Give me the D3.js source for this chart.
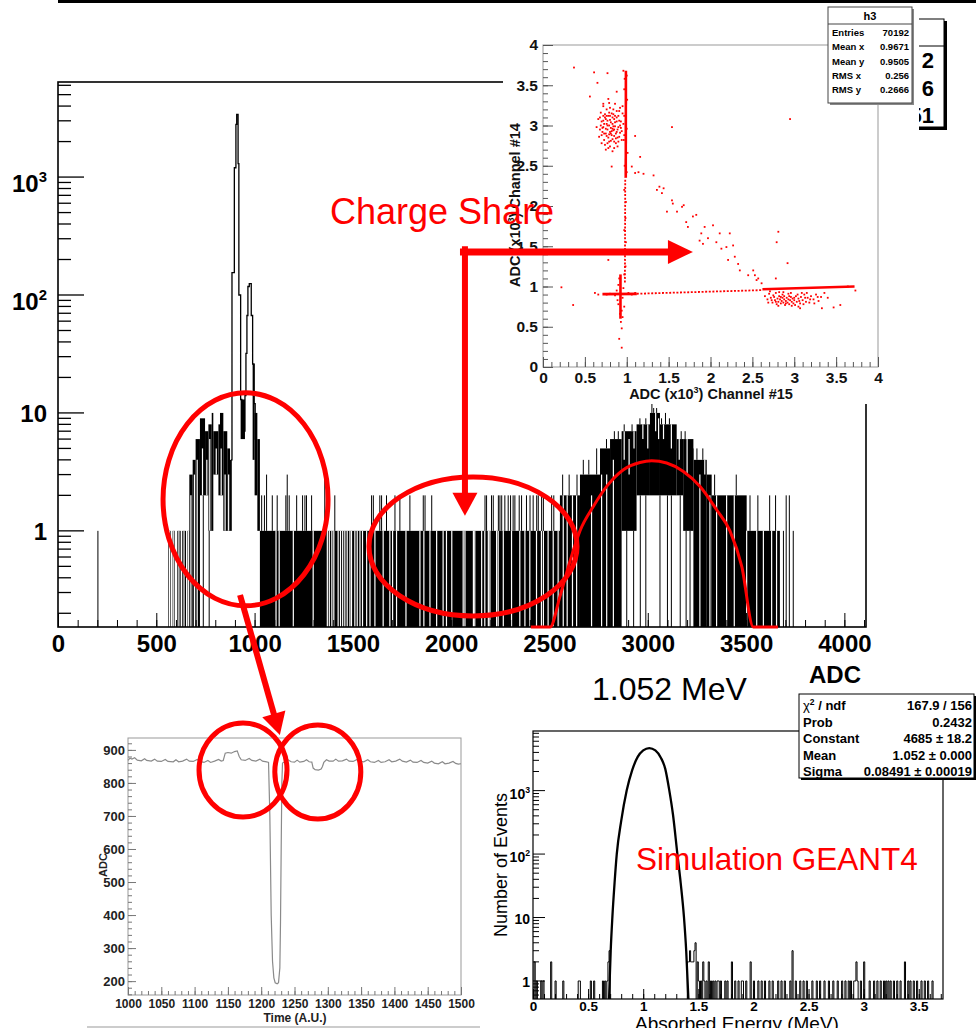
<!DOCTYPE html>
<html lang="en">
<head>
<meta charset="UTF-8" />
<title>ADC spectrum, charge share and GEANT4 simulation</title>
<style>
  body { margin: 0; background: #fff; }
  svg { display: block; }
</style>
</head>
<body>
<svg id="chart" width="976" height="1028"></svg>
<script src="https://d3js.org/d3.v7.min.js"></script>
<script>
// ---------- main ADC spectrum (channel #15), log y ----------
const adcTickLabels = [0, 500, 1000, 1500, 2000, 2500, 3000, 3500, 4000];
const countLabels = [
  { v: 1000, t: "10", e: "3" }, { v: 100, t: "10", e: "2" },
  { v: 10, t: "10", e: "" }, { v: 1, t: "1", e: "" }
];
// [adcFrom, adcTo, lowestCount, highestCount] : regions where the step line is so dense it prints black
const adcBlocks = [
  [561, 573, 0, 1], [583, 595, 0, 1], [607, 624, 0, 1], [632, 651, 0, 1], [658, 668, 0, 1],
  [668, 685, 0, 3], [685, 700, 0, 4], [700, 722, 0, 6],
  [722, 748, 2, 9], [748, 765, 2, 7], [765, 782, 1, 8], [782, 790, 1, 10], [790, 816, 3, 7],
  [816, 824, 2, 8], [824, 841, 2, 10], [841, 861, 1, 7], [861, 875, 1, 5], [875, 884, 1, 4],
  [929, 951, 6, 13],
  [990, 1000, 4, 26], [1000, 1014, 2, 10], [1014, 1027, 1, 6],
  [1027, 2553, 0, 1],
  [2553, 2655, 0, 2], [2655, 2757, 0, 3], [2757, 2808, 0, 5], [2808, 2867, 0, 6],
  [2867, 2943, 1, 7], [2943, 3011, 2, 8], [3011, 3062, 2, 10], [3062, 3147, 2, 8],
  [3147, 3180, 2, 6], [3180, 3232, 1, 6], [3232, 3300, 0, 4], [3300, 3325, 0, 3],
  [3325, 3503, 0, 2], [3503, 3672, 0, 1]
];
// empty bins cutting through the black regions [adc, from, to]
const adcGaps = [
  [567,0,1],[589,0,1],[615,0,1],[641,0,1],[663,0,1],
  [676,0,2],[694,0,3],[708,0,4],[735,2,5],[757,2,4],[772,1,6],[805,3,5],[830,2,5],[850,1,3],[868,1,3],
  [1109,0,1],[1125,0,1],[1197,0,1],[1298,0,1],[1370,0,1],[1380,0,1],[1393,0,1],[1403,0,1],[1425,0,1],
  [1437,0,1],[1448,0,1],[1459,0,1],[1471,0,1],[1485,0,1],[1493,0,1],[1510,0,1],[1522,0,1],[1536,0,1],
  [1549,0,1],[1570,0,1],[1587,0,1],[1612,0,1],[1654,0,1],[1688,0,1],[1702,0,1],[1722,0,1],[1770,0,1],
  [1841,0,1],[1861,0,1],[1892,0,1],[1926,0,1],[1959,0,1],[1976,0,1],[2003,0,1],[2061,0,1],[2070,0,1],
  [2113,0,1],[2120,0,1],[2155,0,1],[2171,0,1],[2189,0,1],[2197,0,1],[2231,0,1],[2239,0,1],[2265,0,1],
  [2307,0,1],[2349,0,1],[2375,0,1],[2400,0,1],[2434,0,1],[2459,0,1],[2469,0,1],[2493,0,1],[2519,0,1],
  [2544,0,1],[2570,0,2],[2590,0,2],[2617,0,2],[2638,0,2],[2714,0,2],[2765,0,3],[2791,0,3],[2825,0,4],
  [2880,4,7],[2905,3,6],[2930,5,7],[2975,6,8],[3000,5,8],[3040,7,10],[3055,6,9],[3080,6,8],[3120,5,8],
  [3160,4,6],[3200,3,6],[3265,0,3],[3290,3,4],[3316,0,2],[3350,0,2],[3401,0,2],[3440,0,2],[3503,0,1],
  [3554,0,1],[3588,0,1],[3630,0,1],[3655,0,1]
];
// single bins standing out [adc, from, to]
const adcSpikes = [
  [203,0,1],[739,0,2],[769,0,1],
  [1036,1,2],[1050,1,2],[1061,1,3],[1090,1,2],[1115,1,2],[1159,1,2],[1166,1,3],[1176,1,2],[1214,1,2],
  [1244,1,2],[1256,1,2],[1264,1,2],[1290,1,2],[1357,1,3],[1408,1,2],[1595,1,2],[1604,1,2],[1637,1,2],
  [1646,1,2],[1671,1,2],[1714,1,2],[1739,1,2],[1790,1,2],[1858,1,2],[1867,1,2],[1901,1,2],[2172,1,2],
  [2180,1,2],[2205,1,2],[2214,1,2],[2240,1,2],[2248,1,2],[2257,1,2],[2273,1,2],[2290,1,2],[2302,1,2],
  [2315,1,2],[2324,1,2],[2346,1,2],[2358,1,2],[2383,1,2],[2401,1,2],[2417,1,2],[2435,1,2],[2443,1,2],
  [2460,1,2],[2469,1,2],[2511,1,2],[2522,1,2],
  [2567,2,3],[2600,2,3],[2640,2,3],[2672,3,4],[2700,3,4],[2740,3,5],[2790,5,6],[2830,6,7],[2850,6,7],
  [2880,7,8],[2920,7,8],[2960,8,9],[2990,8,9],[3021,10,12],[3030,10,11],[3045,10,11],[3070,8,9],
  [3090,8,10],[3110,8,9],[3170,6,7],[3190,6,7],[3230,4,5],[3250,4,5],[3280,4,5],
  [3340,2,3],[3450,2,3],[3520,1,2],[3560,1,2],[3620,1,2],[3650,1,2],[3690,0,1],[3704,0,2],[3720,0,2],[3740,0,1],
  [2893,0,1],[2928,0,1],[2962,0,2],[2990,0,2],[3062,0,2],[3100,0,2],[3120,0,2],[3165,0,2],[3195,0,1],[3215,0,1]
];
// the two narrow peaks, drawn as an outline [bin edge, count]
const adcPeak = [[880,4],[885,155],[897,1200],[905,2800],[909,3400],[916,1300],[920,100],[929,13],
  [935,8],[941,12],[946,7],[951,14],[956,32],[961,67],[966,118],[973,125],[983,67],[990,26],[997,12],
  [1003,6],[1008,6]];
// red fit over the 3000 ADC bump [adc, value]
const adcFit = [[2405,0.1],[2503,0.15],[2553,0.277],[2604,0.55],[2655,1.0],[2723,1.61],[2791,2.38],
  [2876,3.3],[2960,3.8],[3020,3.93],[3096,3.76],[3181,3.19],[3266,2.38],[3350,1.51],[3418,1.0],
  [3478,0.5],[3537,0.15],[3662,0.1]];
const mainStatValues = ["2", "6", "51"];

// ---------- 2D scatter: channel #15 vs channel #14 (x10^3) ----------
const scatTickLabels = [0, 0.5, 1, 1.5, 2, 2.5, 3, 3.5, 4];
const h3Stats = [["Entries", "70192"], ["Mean x", "0.9671"], ["Mean y", "0.9505"], ["RMS x", "0.256"], ["RMS y", "0.2666"]];
const denseBands = [[0.988, 2.35, 0.99, 3.68], [0.925, 0.60, 0.925, 1.15], [0.71, 0.905, 1.12, 0.908], [2.62, 0.965, 3.72, 1.0]];
const dottedBands = [[0.978, 1.05, 0.982, 2.35], [1.12, 0.91, 2.62, 0.955]];
const blobTopLeft = [[0.70,3.05],[0.72,2.98],[0.74,3.10],[0.75,2.90],[0.76,3.02],[0.77,2.95],[0.78,3.12],
  [0.78,2.85],[0.79,3.00],[0.80,2.92],[0.80,3.07],[0.81,2.97],[0.82,2.88],[0.82,3.15],[0.83,3.02],[0.84,2.94],
  [0.85,3.08],[0.85,2.80],[0.86,2.99],[0.87,2.90],[0.88,3.05],[0.89,2.95],[0.90,3.12],[0.91,2.86],[0.92,3.00],
  [0.73,2.82],[0.71,2.92],[0.69,3.00],[0.68,2.95],[0.74,2.76],[0.77,2.78],[0.80,2.74],[0.76,3.20],[0.80,3.22],
  [0.84,3.20],[0.88,3.18],[0.93,3.05],[0.94,2.93],[0.72,3.12],[0.83,2.83],[0.79,2.89],[0.75,2.96],[0.86,3.12],
  [0.81,3.04],[0.77,3.06],[0.84,2.99],[0.73,3.02],[0.89,2.85],[0.91,3.18],[0.87,2.78],[0.70,2.88],[0.95,3.15],
  [0.78,2.72],[0.83,3.10],[0.76,2.87],[0.90,2.98],[0.82,2.93],[0.86,3.04],[0.74,3.14],[0.88,2.92],[0.79,3.16],
  [0.85,2.87],[0.71,2.97],[0.92,2.91],[0.81,2.81],
  [0.66,3.08],[0.67,2.86],[0.69,3.16],[0.70,2.78],[0.72,3.24],[0.75,2.70],[0.79,3.28],[0.83,2.68],[0.86,3.27],
  [0.89,2.74],[0.92,3.22],[0.94,2.82],[0.96,3.02],[0.97,2.88],[0.64,2.98],[0.73,2.90],[0.77,3.00],[0.81,2.90],
  [0.85,2.95],[0.88,3.10],[0.91,3.06],[0.76,3.12],[0.84,3.14],[0.79,2.80],[0.87,2.84],[0.72,3.06],[0.93,2.97],
  [0.80,3.12],[0.83,2.96],[0.75,3.08],[0.68,3.10],[0.90,2.80],[0.95,3.24],[0.78,3.33],[0.85,2.72]];
const blobBottomRight = [[2.65,0.88],[2.68,0.84],[2.70,0.91],[2.72,0.86],[2.74,0.80],[2.75,0.89],[2.77,0.83],
  [2.78,0.92],[2.79,0.78],[2.80,0.85],[2.81,0.81],[2.82,0.88],[2.83,0.84],[2.84,0.79],[2.85,0.82],[2.86,0.86],
  [2.87,0.80],[2.88,0.84],[2.89,0.77],[2.90,0.82],[2.91,0.86],[2.92,0.80],[2.93,0.84],[2.94,0.78],[2.95,0.83],
  [2.96,0.87],[2.97,0.81],[2.98,0.85],[2.99,0.79],[3.00,0.83],[3.02,0.88],[3.03,0.81],[3.05,0.85],[3.07,0.79],
  [3.08,0.87],[3.10,0.83],[3.12,0.90],[3.14,0.81],[3.16,0.86],[3.18,0.80],[3.20,0.88],[3.23,0.84],[3.26,0.90],
  [3.29,0.82],[3.32,0.87],[2.86,0.90],[2.93,0.91],[2.76,0.87],[3.01,0.77],[2.88,0.88],[3.04,0.90],[2.82,0.93],
  [3.15,0.92],[2.71,0.94],[3.36,0.92],[3.40,0.86],
  [2.73,0.83],[2.81,0.76],[2.84,0.87],[2.90,0.79],[2.94,0.88],[2.97,0.76],[3.00,0.86],[3.06,0.82],[3.11,0.78],
  [3.13,0.86],[3.19,0.84],[3.24,0.79],[3.28,0.87],[2.69,0.80],[2.87,0.93],[2.96,0.92],[3.09,0.92],[2.78,0.81]];
const diagonalDots = [[1.06,2.49],[1.10,2.41],[1.14,2.42],[1.20,2.40],[1.32,2.38],[1.36,2.20],[1.39,2.24],
  [1.42,2.16],[1.44,2.22],[1.48,1.93],[1.54,2.07],[1.55,2.03],[1.60,1.93],[1.66,1.99],[1.68,2.01],[1.71,1.80],
  [1.73,1.74],[1.79,1.87],[1.83,1.89],[1.87,1.57],[1.89,1.66],[1.91,1.53],[1.93,1.74],[1.97,1.60],[2.03,1.76],
  [2.07,1.55],[2.11,1.66],[2.13,1.47],[2.19,1.49],[2.21,1.33],[2.23,1.66],[2.27,1.51],[2.29,1.37],[2.33,1.28],
  [2.35,1.20],[2.45,1.14],[2.51,1.20],[2.53,1.14],[2.55,1.08],[2.57,1.10],[2.61,1.04]];
const strayDots = [[0.37,3.72],[0.61,3.66],[0.77,3.65],[0.96,3.68],[0.56,3.36],[0.65,3.53],[0.88,3.42],
  [0.72,3.27],[1.54,2.98],[2.95,3.08],[2.81,1.68],[2.79,1.55],[2.92,1.29],[2.78,1.10],[0.22,0.99],[0.36,0.77],
  [0.91,0.35],[0.94,0.24],[0.78,1.33],[0.82,2.49],[1.10,2.87],[1.16,2.61],[3.73,0.95],[3.47,0.74],[3.55,0.77],
  [3.33,0.73],[3.07,0.73],[3.05,0.75],[3.64,1.0],[0.62,0.92],[0.66,0.90]];
const bandDots = [[0.975,3.58],[1.0,3.62],[0.97,3.45],[1.005,3.32],[0.97,3.12],[1.0,2.96],[0.965,2.82],
  [1.01,2.66],[0.975,2.5],[1.0,2.42],[0.97,2.2],[0.99,2.05],[0.985,1.85],[0.97,1.7],[0.99,1.55],[0.975,1.4],
  [0.985,1.25],[0.97,1.15],[0.90,0.78],[0.94,0.70],[0.92,0.66],[0.95,0.86],[0.88,0.95],[0.96,0.98],[0.91,1.10],
  [0.86,0.89],[1.02,0.92],[1.06,0.90],[0.80,0.91],[0.95,0.62],[0.90,1.02],[0.97,0.75],[0.89,0.83],[0.93,0.56],
  [0.94,0.48],[0.76,0.90],[1.10,0.92]];

// ---------- waveform, ADC vs time ----------
const waveTimeLabels = [1000,1050,1100,1150,1200,1250,1300,1350,1400,1450,1500];
const waveAdcLabels = [200,300,400,500,600,700,800,900];
const waveform = [[1000,868],[1003,875],[1006,872],[1010,876],[1014,869],[1020,867],[1025,873],[1028,868],
  [1035,866],[1040,872],[1044,866],[1050,865],[1056,871],[1060,865],[1068,864],[1072,870],[1076,864],[1082,866],
  [1088,872],[1092,866],[1098,865],[1104,871],[1108,865],[1114,862],[1120,868],[1124,862],[1130,866],[1136,871],
  [1140,866],[1143,868],[1146,890],[1150,892],[1155,890],[1160,895],[1164,897],[1167,880],[1170,870],[1176,868],
  [1182,874],[1186,868],[1192,866],[1198,872],[1202,866],[1208,864],[1211,862],[1213,700],[1215,400],[1217,260],
  [1219,210],[1221,195],[1224,192],[1226,195],[1228,240],[1229,380],[1230,600],[1231,800],[1232,860],[1236,865],
  [1240,870],[1245,864],[1250,863],[1254,869],[1258,863],[1264,865],[1268,870],[1272,864],[1276,863],[1278,845],
  [1281,840],[1286,839],[1290,842],[1292,850],[1294,862],[1298,870],[1302,866],[1308,866],[1312,872],[1316,866],
  [1322,867],[1328,872],[1332,866],[1338,865],[1344,871],[1348,865],[1354,864],[1360,870],[1364,864],[1370,862],
  [1376,868],[1380,862],[1386,864],[1392,870],[1396,864],[1402,866],[1408,872],[1412,866],[1418,863],[1424,869],
  [1428,863],[1434,862],[1440,868],[1444,862],[1450,860],[1456,866],[1460,860],[1466,858],[1472,864],[1476,858],
  [1482,860],[1488,865],[1492,859],[1496,857],[1500,858]];

// ---------- GEANT4 simulation, absorbed energy ----------
const energyLabels = [0, 0.5, 1, 1.5, 2, 2.5, 3, 3.5];
const eventLabels = [{ v: 1000, t: "10", e: "3" }, { v: 100, t: "10", e: "2" }, { v: 10, t: "10", e: "" }, { v: 1, t: "1", e: "" }];
const simBinWidth = 0.01;
const simBins = [[0.01,2],[0.03,1],[0.07,1],[0.09,1],[0.16,2],[0.20,1],[0.27,1],[0.41,1],[0.42,1],[0.52,1],
  [0.55,1],[0.63,1],[0.65,1],[0.67,1],[0.68,2],[0.69,3],
  [1.40,2],[1.41,2],[1.42,3],[1.43,2],[1.44,2],[1.45,2],[1.46,3],[1.47,4],[1.49,2],[1.50,1],[1.52,1],[1.54,2],
  [1.55,1],[1.57,1],[1.59,2],[1.61,1],[1.63,1],[1.65,1],[1.67,1],[1.68,1],[1.70,1],[1.74,1],[1.76,1],[1.80,2],
  [1.83,1],[1.86,1],[1.89,1],[1.90,1],[1.93,1],[1.97,2],[2.00,1],[2.04,1],[2.07,1],[2.10,1],[2.14,1],[2.17,1],
  [2.22,1],[2.25,1],[2.28,1],[2.33,1],[2.35,3],[2.38,1],[2.42,1],[2.45,1],[2.48,1],[2.53,1],[2.57,1],[2.60,1],
  [2.64,1],[2.68,1],[2.72,1],[2.76,1],[2.80,1],[2.83,1],[2.86,1],[2.88,1],[2.91,1],[2.92,1],[2.93,2],[2.94,1],
  [2.97,1],[3.00,2],[3.05,1],[3.09,1],[3.12,1],[3.15,1],[3.18,1],[3.20,1],[3.22,1],[3.24,1],[3.27,1],[3.30,1],
  [3.33,1],[3.37,2],[3.40,1],[3.42,1],[3.45,1],[3.48,1],[3.52,1],[3.55,1],[3.58,1],[3.62,1]];
const simFitCurve = [[0.69,0.52],[0.705,3],[0.72,10],[0.74,35],[0.76,100],[0.80,330],[0.85,1000],[0.90,2100],
  [0.95,3400],[1.00,4300],[1.055,4685],[1.11,4300],[1.16,3300],[1.20,2200],[1.237,1000],[1.27,420],[1.31,100],
  [1.34,35],[1.37,10],[1.39,3],[1.41,0.52]];
const fitStats = [["2", "167.9 / 156"], ["Prob", "0.2432"], ["Constant", "4685 \u00b1 18.2"], ["Mean", "1.052 \u00b1 0.000"], ["Sigma", "0.08491 \u00b1 0.00019"]];

const FONT = '"Liberation Sans", Arial, Helvetica, sans-serif';
const RED = "#ff0000";
const svg = d3.select("#chart").attr("font-family", FONT);
const intFmt = d3.format("d");

function logTicks(scale) {
  const [lo, hi] = scale.domain();
  const out = [];
  for (let e = Math.floor(Math.log10(lo)); e <= Math.ceil(Math.log10(hi)); e++)
    for (let m = 1; m <= 9; m++) {
      const v = m * Math.pow(10, e);
      if (v >= lo && v <= hi) out.push({ v, major: m === 1 });
    }
  return out;
}
function styleAxis(g, size, color, weight) {
  g.attr("font-family", FONT).attr("font-size", size).attr("font-weight", weight || "bold").attr("color", color);
  g.select(".domain").remove();
}
function richText(g, x, y, base, sup, tail, size) {
  const t = g.append("text").attr("x", x).attr("y", y).attr("font-size", size);
  t.append("tspan").text(base);
  if (sup) {
    t.append("tspan").attr("dy", -0.42 * size).attr("font-size", size * 0.62).text(sup);
    if (tail) t.append("tspan").attr("dy", 0.42 * size).text(tail);
  }
  return t;
}
function arrow(g, x1, y1, x2, y2, w, headLen, headW) {
  const a = Math.atan2(y2 - y1, x2 - x1), c = Math.cos(a), s = Math.sin(a);
  const bx = x2 - headLen * c, by = y2 - headLen * s;
  g.append("line").attr("x1", x1).attr("y1", y1).attr("x2", bx + c).attr("y2", by + s)
    .attr("stroke", RED).attr("stroke-width", w);
  g.append("path").attr("fill", RED)
    .attr("d", `M${x2},${y2}L${bx - s * headW / 2},${by + c * headW / 2}L${bx + s * headW / 2},${by - c * headW / 2}Z`);
}

// ================= main spectrum =================
const mX = d3.scaleLinear().domain([0, 4110]).range([58, 866]);
const mY = d3.scaleLog().domain([0.153, 6400]).range([627, 82]);
const my = v => v <= 0 ? 627 : Math.max(82, Math.min(627, mY(v)));
const main = svg.append("g");

main.selectAll(".blk").data(adcBlocks).join("rect")
  .attr("x", d => mX(d[0])).attr("width", d => mX(d[1]) - mX(d[0]))
  .attr("y", d => my(d[3])).attr("height", d => my(d[2]) - my(d[3])).attr("fill", "#000");
main.selectAll(".gap").data(adcGaps).join("line")
  .attr("x1", d => mX(d[0])).attr("x2", d => mX(d[0]))
  .attr("y1", d => my(d[1])).attr("y2", d => my(d[2])).attr("stroke", "#fff").attr("stroke-width", 1.2);
main.selectAll(".spk").data(adcSpikes).join("line")
  .attr("x1", d => mX(d[0])).attr("x2", d => mX(d[0]))
  .attr("y1", d => my(d[1])).attr("y2", d => my(d[2])).attr("stroke", "#000").attr("stroke-width", 1);
main.append("path").datum(adcPeak)
  .attr("d", d3.line().x(d => mX(d[0])).y(d => my(d[1])).curve(d3.curveStepAfter))
  .attr("fill", "none").attr("stroke", "#000").attr("stroke-width", 1.3);

main.append("rect").attr("x", 58).attr("y", 82).attr("width", 808).attr("height", 545)
  .attr("fill", "none").attr("stroke", "#000").attr("stroke-width", 1.6);

main.append("g").attr("transform", "translate(0,627)")
  .call(d3.axisBottom(mX).tickValues(d3.range(0, 4101, 100)).tickSizeInner(-7).tickSizeOuter(0).tickFormat(() => ""))
  .call(g => styleAxis(g, 24, "#000"));
main.append("g").attr("transform", "translate(0,627)")
  .call(d3.axisBottom(mX).tickValues(adcTickLabels).tickSizeInner(-14).tickSizeOuter(0).tickPadding(8).tickFormat(intFmt))
  .call(g => styleAxis(g, 24, "#000"));
main.selectAll(".ytk").data(logTicks(mY)).join("line")
  .attr("x1", 58).attr("x2", d => 58 + (d.major ? 26 : 13))
  .attr("y1", d => mY(d.v)).attr("y2", d => mY(d.v)).attr("stroke", "#000").attr("stroke-width", 1.3);
countLabels.forEach(d => {
  richText(main, 47, mY(d.v) + (d.e ? 15 : 9), d.t, d.e, "", 24)
    .attr("text-anchor", "end").attr("font-weight", "bold");
});
main.append("text").attr("x", 861).attr("y", 683).attr("text-anchor", "end")
  .attr("font-size", 24).attr("font-weight", "bold").text("ADC");

// stat box of the main spectrum (only its right end shows past the scatter pad)
svg.append("clipPath").attr("id", "mstatClip")
  .append("rect").attr("x", 919).attr("y", 0).attr("width", 57).attr("height", 140);
const mstat = svg.append("g").attr("clip-path", "url(#mstatClip)");
mstat.append("rect").attr("x", 780).attr("y", 21).attr("width", 167).attr("height", 109).attr("fill", "#000");
mstat.append("rect").attr("x", 778).attr("y", 19).attr("width", 166).attr("height", 108)
  .attr("fill", "#fff").attr("stroke", "#000").attr("stroke-width", 1);
mstat.append("line").attr("x1", 778).attr("x2", 944).attr("y1", 46).attr("y2", 46).attr("stroke", "#000");
mainStatValues.forEach((v, i) => {
  mstat.append("text").attr("x", 934).attr("y", 68 + i * 27.5).attr("text-anchor", "end")
    .attr("font-size", 22).attr("font-weight", "bold").text(v);
});
svg.append("line").attr("x1", 912).attr("x2", 919).attr("y1", 19.5).attr("y2", 19.5).attr("stroke", "#000");

// red fit curve
main.append("path").datum(adcFit)
  .attr("d", d3.line().x(d => mX(d[0])).y(d => my(d[1])).curve(d3.curveMonotoneX))
  .attr("fill", "none").attr("stroke", RED).attr("stroke-width", 3);

// ================= scatter pad =================
svg.append("rect").attr("x", 503).attr("y", 4).attr("width", 416).attr("height", 400).attr("fill", "#fff");
const cX = d3.scaleLinear().domain([0, 4]).range([543, 878]);
const cY = d3.scaleLinear().domain([0, 4]).range([367, 45]);
const scat = svg.append("g");
scat.append("rect").attr("x", 543).attr("y", 45).attr("width", 335).attr("height", 322)
  .attr("fill", "none").attr("stroke", "#999").attr("stroke-width", 1);
scat.append("g").attr("transform", "translate(0,367)")
  .call(d3.axisBottom(cX).tickValues(d3.range(0, 4.01, 0.1)).tickSizeInner(-5).tickSizeOuter(0).tickFormat(() => ""))
  .call(g => styleAxis(g, 15, "#555"));
scat.append("g").attr("transform", "translate(0,367)")
  .call(d3.axisBottom(cX).tickValues(scatTickLabels).tickSizeInner(-10).tickSizeOuter(0).tickPadding(5).tickFormat(d3.format("")))
  .call(g => styleAxis(g, 15.5, "#555")).call(g => g.selectAll("text").attr("fill", "#111"));
scat.append("g").attr("transform", "translate(543,0)")
  .call(d3.axisLeft(cY).tickValues(d3.range(0, 4.01, 0.1)).tickSizeInner(-5).tickSizeOuter(0).tickFormat(() => ""))
  .call(g => styleAxis(g, 15, "#555"));
scat.append("g").attr("transform", "translate(543,0)")
  .call(d3.axisLeft(cY).tickValues(scatTickLabels).tickSizeInner(-10).tickSizeOuter(0).tickPadding(5).tickFormat(d3.format("")))
  .call(g => styleAxis(g, 15.5, "#555")).call(g => g.selectAll("text").attr("fill", "#111"));
richText(scat, 711, 399, "ADC (x10", "3", ") Channel #15", 14.5).attr("text-anchor", "middle").attr("font-weight", "bold").attr("fill", "#111");
richText(scat, 0, 0, "ADC (x10", "3", ") Channel #14", 14.5).attr("text-anchor", "middle").attr("font-weight", "bold")
  .attr("fill", "#111").attr("transform", "translate(520,205) rotate(-90)");

scat.selectAll(".band").data(denseBands).join("line")
  .attr("x1", d => cX(d[0])).attr("y1", d => cY(d[1])).attr("x2", d => cX(d[2])).attr("y2", d => cY(d[3]))
  .attr("stroke", RED).attr("stroke-width", 2.6);
scat.selectAll(".dband").data(dottedBands).join("line")
  .attr("x1", d => cX(d[0])).attr("y1", d => cY(d[1])).attr("x2", d => cX(d[2])).attr("y2", d => cY(d[3]))
  .attr("stroke", RED).attr("stroke-width", 1.8).attr("stroke-dasharray", "2 1.6");
const allDots = [].concat(blobTopLeft, blobBottomRight, diagonalDots, strayDots, bandDots);
scat.selectAll(".dot").data(allDots).join("rect")
  .attr("x", d => cX(d[0]) - 0.9).attr("y", d => cY(d[1]) - 0.9)
  .attr("width", 1.8).attr("height", 1.8).attr("fill", RED);

// h3 stat box
const h3 = svg.append("g");
h3.append("rect").attr("x", 830).attr("y", 9).attr("width", 84).attr("height", 96).attr("fill", "#888");
h3.append("rect").attr("x", 828).attr("y", 7).attr("width", 84).attr("height", 96)
  .attr("fill", "#fff").attr("stroke", "#444").attr("stroke-width", 1);
h3.append("line").attr("x1", 828).attr("x2", 912).attr("y1", 24).attr("y2", 24).attr("stroke", "#444");
h3.append("text").attr("x", 870).attr("y", 20).attr("text-anchor", "middle")
  .attr("font-size", 11).attr("font-weight", "bold").text("h3");
h3Stats.forEach((r, i) => {
  const y = 36 + i * 14.3;
  h3.append("text").attr("x", 832).attr("y", y).attr("font-size", 9.5).attr("font-weight", "bold").text(r[0]);
  h3.append("text").attr("x", 909).attr("y", y).attr("text-anchor", "end").attr("font-size", 9.5).attr("font-weight", "bold").text(r[1]);
});

// top rule
svg.append("rect").attr("x", 58).attr("y", 0).attr("width", 918).attr("height", 3).attr("fill", "#000");

// ================= waveform =================
const wX = d3.scaleLinear().domain([1000, 1500]).range([128, 461]);
const wY = d3.scaleLinear().domain([158, 936]).range([995, 738]);
const wave = svg.append("g");
wave.append("rect").attr("x", 128).attr("y", 738).attr("width", 333).attr("height", 257)
  .attr("fill", "none").attr("stroke", "#999");
wave.append("g").attr("transform", "translate(0,995)")
  .call(d3.axisBottom(wX).tickValues(d3.range(1000, 1501, 10)).tickSizeInner(-4).tickSizeOuter(0).tickFormat(() => ""))
  .call(g => styleAxis(g, 12, "#777"));
wave.append("g").attr("transform", "translate(0,995)")
  .call(d3.axisBottom(wX).tickValues(waveTimeLabels).tickSizeInner(-8).tickSizeOuter(0).tickPadding(4).tickFormat(intFmt))
  .call(g => styleAxis(g, 12, "#777")).call(g => g.selectAll("text").attr("fill", "#222"));
wave.append("g").attr("transform", "translate(128,0)")
  .call(d3.axisLeft(wY).tickValues(d3.range(160, 936, 20)).tickSizeInner(-4).tickSizeOuter(0).tickFormat(() => ""))
  .call(g => styleAxis(g, 13, "#777"));
wave.append("g").attr("transform", "translate(128,0)")
  .call(d3.axisLeft(wY).tickValues(waveAdcLabels).tickSizeInner(-8).tickSizeOuter(0).tickPadding(3).tickFormat(intFmt))
  .call(g => styleAxis(g, 13, "#777")).call(g => g.selectAll("text").attr("fill", "#222"));
wave.append("text").attr("x", 295).attr("y", 1022).attr("text-anchor", "middle")
  .attr("font-size", 12).attr("font-weight", "bold").attr("fill", "#222").text("Time (A.U.)");
wave.append("text").attr("transform", "translate(107,865) rotate(-90)").attr("text-anchor", "middle")
  .attr("font-size", 11).attr("font-weight", "bold").attr("fill", "#222").text("ADC");
wave.append("path").datum(waveform)
  .attr("d", d3.line().x(d => wX(d[0])).y(d => wY(d[1])))
  .attr("fill", "none").attr("stroke", "#8a8a8a").attr("stroke-width", 1.2);
svg.append("line").attr("x1", 87).attr("x2", 480).attr("y1", 1027).attr("y2", 1027)
  .attr("stroke", "#ccc").attr("stroke-width", 2);

// ================= simulation =================
const sX = d3.scaleLinear().domain([0, 3.72]).range([533, 943]);
const sY = d3.scaleLog().domain([0.52, 8700]).range([999, 731]);
const sy = v => v <= 0 ? 999 : Math.max(731, Math.min(999, sY(v)));
const sim = svg.append("g");
sim.append("rect").attr("x", 533).attr("y", 731).attr("width", 410).attr("height", 268)
  .attr("fill", "none").attr("stroke", "#000").attr("stroke-width", 1.2);
const bins = simBins.slice().sort((a, b) => a[0] - b[0]);
const hp = d3.path();
bins.forEach((b, i) => {
  const x0 = sX(b[0]), x1 = sX(b[0] + simBinWidth);
  const prevAdj = i > 0 && Math.abs(bins[i - 1][0] + simBinWidth - b[0]) < 1e-6;
  const nextAdj = i < bins.length - 1 && Math.abs(b[0] + simBinWidth - bins[i + 1][0]) < 1e-6;
  if (!prevAdj) hp.moveTo(x0, 999);
  hp.lineTo(x0, sy(b[1]));
  hp.lineTo(x1, sy(b[1]));
  if (!nextAdj) hp.lineTo(x1, 999);
});
sim.append("path").attr("d", hp.toString()).attr("fill", "none").attr("stroke", "#000").attr("stroke-width", 1);
sim.append("path").datum(simFitCurve)
  .attr("d", d3.line().x(d => sX(d[0])).y(d => sy(d[1])).curve(d3.curveMonotoneX))
  .attr("fill", "none").attr("stroke", "#000").attr("stroke-width", 2.3);
sim.append("g").attr("transform", "translate(0,999)")
  .call(d3.axisBottom(sX).tickValues(d3.range(0, 3.71, 0.1)).tickSizeInner(-5).tickSizeOuter(0).tickFormat(() => ""))
  .call(g => styleAxis(g, 13.5, "#000"));
sim.append("g").attr("transform", "translate(0,999)")
  .call(d3.axisBottom(sX).tickValues(energyLabels).tickSizeInner(-10).tickSizeOuter(0).tickPadding(2).tickFormat(d3.format("")))
  .call(g => styleAxis(g, 13.5, "#000"));
sim.selectAll(".sytk").data(logTicks(sY)).join("line")
  .attr("x1", 533).attr("x2", d => 533 + (d.major ? 12 : 6))
  .attr("y1", d => sY(d.v)).attr("y2", d => sY(d.v)).attr("stroke", "#000").attr("stroke-width", 1);
eventLabels.forEach(d => {
  richText(sim, 530, sY(d.v) + (d.e ? 8 : 6), d.t, d.e, "", 14).attr("text-anchor", "end").attr("font-weight", "bold");
});
sim.append("text").attr("x", 737).attr("y", 1030).attr("text-anchor", "middle").attr("font-size", 19)
  .text("Absorbed Energy (MeV)");
sim.append("text").attr("transform", "translate(507,865) rotate(-90)").attr("text-anchor", "middle")
  .attr("font-size", 18).text("Number of Events");
sim.append("text").attr("x", 636).attr("y", 870).attr("font-size", 31.5).attr("fill", RED).text("Simulation GEANT4");

// fit stat box
const fb = svg.append("g");
fb.append("rect").attr("x", 801).attr("y", 696).attr("width", 175).attr("height", 84).attr("fill", "#000");
fb.append("rect").attr("x", 799).attr("y", 694).attr("width", 175).attr("height", 84)
  .attr("fill", "#fff").attr("stroke", "#000").attr("stroke-width", 1);
fitStats.forEach((r, i) => {
  const y = 710 + i * 16.5;
  const lab = fb.append("text").attr("x", 803).attr("y", y).attr("font-size", 13).attr("font-weight", "bold");
  if (i === 0) {
    lab.append("tspan").attr("font-weight", "normal").text("\u03c7");
    lab.append("tspan").attr("dy", -5).attr("font-size", 8.5).text(r[0]);
    lab.append("tspan").attr("dy", 5).text(" / ndf");
  } else lab.text(r[0]);
  fb.append("text").attr("x", 972).attr("y", y).attr("text-anchor", "end").attr("font-size", 13)
    .attr("font-weight", "bold").text(r[1]);
});
svg.append("text").attr("x", 592).attr("y", 700).attr("font-size", 32).text("1.052 MeV");

// ================= red annotations =================
const notes = svg.append("g");
notes.append("ellipse").attr("cx", mX(954)).attr("cy", my(1.85)).attr("rx", 82.5).attr("ry", 106.5)
  .attr("fill", "none").attr("stroke", RED).attr("stroke-width", 5);
notes.append("ellipse").attr("cx", mX(2111)).attr("cy", my(0.738)).attr("rx", 104).attr("ry", 69.5)
  .attr("fill", "none").attr("stroke", RED).attr("stroke-width", 5);
arrow(notes, mX(2070), my(244) - 3, mX(2070), my(1.34), 6, 23, 25);
arrow(notes, mX(2060) - 3, cY(1.43), cX(1.79), cY(1.43), 7, 25, 24);
arrow(notes, mX(926), my(0.286), wX(1228), wY(945), 6, 22, 24);
notes.append("text").attr("x", 330).attr("y", 224).attr("font-size", 36).attr("fill", RED).text("Charge Share");
notes.append("ellipse").attr("cx", wX(1172.7)).attr("cy", wY(839)).attr("rx", 44).attr("ry", 47)
  .attr("fill", "none").attr("stroke", RED).attr("stroke-width", 5);
notes.append("ellipse").attr("cx", wX(1285)).attr("cy", wY(833)).attr("rx", 43).attr("ry", 47)
  .attr("fill", "none").attr("stroke", RED).attr("stroke-width", 5);
</script>
</body>
</html>
